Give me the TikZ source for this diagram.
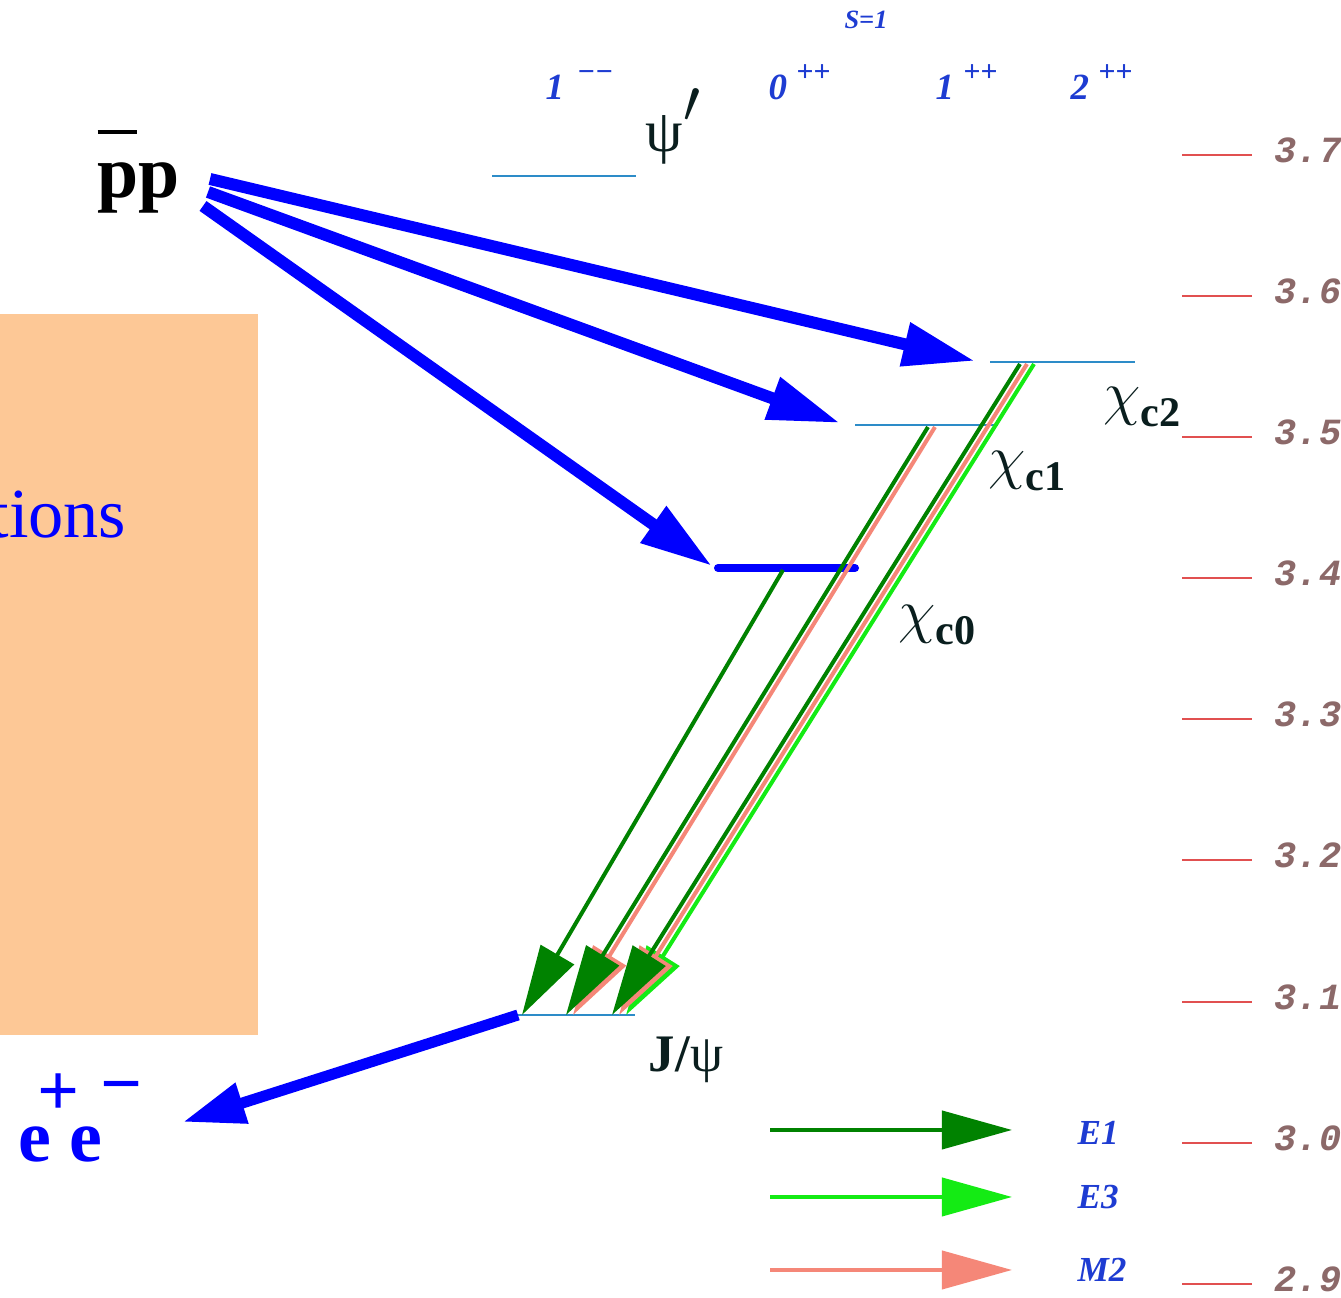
\documentclass[tikz,border=0pt]{standalone}
\usepackage{fontspec}
\setmainfont{Liberation Serif}
\newfontfamily\monof{Liberation Mono}
\usetikzlibrary{arrows.meta}
\definecolor{boxor}{RGB}{253,200,150}
\definecolor{lvl}{RGB}{45,140,200}
\definecolor{dkgreen}{RGB}{0,130,0}
\definecolor{brgreen}{RGB}{20,235,20}
\definecolor{salm}{RGB}{245,135,120}
\definecolor{scalered}{RGB}{225,80,80}
\definecolor{scaletxt}{RGB}{140,105,105}
\definecolor{qnblue}{RGB}{30,60,210}
\definecolor{lbldark}{RGB}{10,30,30}
\newcommand{\chilbl}[1]{{\fontsize{19}{20}\selectfont$\chi$}\raisebox{-0.35em}{\fontsize{12}{13}\selectfont\bfseries #1}}
\begin{document}
\begin{tikzpicture}[x=0.01cm,y=-0.01cm,
  levelline/.style={draw=lvl,line width=0.024cm},
  prod/.style={draw=blue,line width=0.12cm,-{Triangle[length=0.72cm,width=0.42cm]}},
  eone/.style={draw=dkgreen,line width=0.04cm,-{Triangle[length=0.7cm,width=0.38cm]}},
  ethree/.style={draw=brgreen,line width=0.04cm,-{Triangle[length=0.7cm,width=0.38cm]}},
  mtwo/.style={draw=salm,line width=0.04cm,-{Triangle[length=0.7cm,width=0.38cm]}},
  scaleline/.style={draw=scalered,line width=0.028cm},
  scalelbl/.style={anchor=west,inner sep=0pt,text=scaletxt,font=\monof\bfseries\itshape\fontsize{10.5}{11}\selectfont},
  qnlbl/.style={anchor=base west,inner sep=0pt,text=qnblue,font=\bfseries\itshape\fontsize{10.5}{12}\selectfont},
  leglbl/.style={anchor=west,inner sep=0pt,text=qnblue,font=\bfseries\itshape\fontsize{10}{12}\selectfont},
  statelbl/.style={anchor=base west,inner sep=0pt,text=lbldark}
]
\useasboundingbox (0,0) rectangle (1341,1298);
\fill[white] (0,0) rectangle (1341,1298);

% orange box
\fill[boxor] (0,314) rectangle (258,1035);
\node[anchor=base east,inner sep=0pt,text=blue,font=\fontsize{20}{24}\selectfont] (tions) at (127,538) {tions};

% top labels
\node[inner sep=0pt,text=qnblue,font=\bfseries\itshape\fontsize{7.5}{9}\selectfont] (S1) at (866,20) {S=1};
\node[qnlbl] (q1) at (545,100) {1\hspace{0.35em}\raisebox{0.5em}{\fontsize{8.5}{9}\selectfont −−}};
\node[qnlbl] (q2) at (768,100) {0\hspace{0.25em}\raisebox{0.5em}{\fontsize{8.5}{9}\selectfont ++}};
\node[qnlbl] (q3) at (935,100) {1\hspace{0.25em}\raisebox{0.5em}{\fontsize{8.5}{9}\selectfont ++}};
\node[qnlbl] (q4) at (1070,100) {2\hspace{0.25em}\raisebox{0.5em}{\fontsize{8.5}{9}\selectfont ++}};

% scale
\foreach \yy/\vv [count=\k] in {155/3.7,296/3.6,437/3.5,578/3.4,719/3.3,860/3.2,1002/3.1,1143/3.0,1284/2.9}{
  \coordinate (sa\k) at (1182,\yy);
  \coordinate (sb\k) at (1252,\yy);
  \draw[scaleline] (sa\k) -- (sb\k);
  \node[scalelbl] (sl\k) at (1274,\yy-5) {\vv};
}

% levels
\coordinate (psiL) at (492,176); \coordinate (psiR) at (636,176);
\coordinate (c2L) at (990,362);  \coordinate (c2R) at (1135,362);
\coordinate (c1L) at (855,425);  \coordinate (c1R) at (998,425);
\coordinate (c0L) at (718,568);  \coordinate (c0R) at (855,568);
\coordinate (jL) at (518,1015);  \coordinate (jR) at (635,1015);
\draw[levelline] (psiL) -- (psiR);
\draw[levelline] (c2L) -- (c2R);
\draw[levelline] (c1L) -- (c1R);
\draw[levelline] (jL) -- (jR);
\draw[blue,line width=0.08cm,line cap=round] (c0L) -- (c0R);

% state labels
\node[statelbl,font=\fontsize{17}{20}\selectfont] (psip) at (645,152) {ψ\raisebox{0.5em}{$\prime$}};
\node[statelbl] (chic2) at (1103,414) {\chilbl{c2}};
\node[statelbl] (chic1) at (988,478) {\chilbl{c1}};
\node[statelbl] (chic0) at (898,632) {\chilbl{c0}};
\node[statelbl,font=\fontsize{15}{18}\selectfont] (jpsi) at (648,1072) {\textbf{J/}ψ};

% radiative transitions
\coordinate (t0s) at (783,570);  \coordinate (t0e) at (522,1015);
\coordinate (t1s) at (928,427);  \coordinate (t1e) at (566,1015);
\coordinate (t1ms) at (935,427); \coordinate (t1me) at (573,1015);
\coordinate (t2s) at (1020,364); \coordinate (t2e) at (612,1015);
\coordinate (t2ms) at (1027,364); \coordinate (t2me) at (619,1015);
\coordinate (t2es) at (1034,364); \coordinate (t2ee) at (626,1015);
\draw[ethree] (t2es) -- (t2ee);
\draw[mtwo] (t2ms) -- (t2me);
\draw[eone] (t2s) -- (t2e);
\draw[mtwo] (t1ms) -- (t1me);
\draw[eone] (t1s) -- (t1e);
\draw[eone] (t0s) -- (t0e);

% ppbar
\node[anchor=base west,inner sep=0pt,text=black,font=\bfseries\fontsize{21}{24}\selectfont] (pp) at (97,198) {\makebox[0pt][l]{\raisebox{0.86em}{\rule{0.53em}{0.055em}}}pp};
\coordinate (pa) at (210,179);
\coordinate (pb) at (208,192);
\coordinate (pc) at (203,206);
\coordinate (tipc2) at (975,361);
\coordinate (tipc1) at (840,423);
\coordinate (tipc0) at (712,566);
\draw[prod] (pa) -- (tipc2);
\draw[prod] (pb) -- (tipc1);
\draw[prod] (pc) -- (tipc0);

% e+e-
\node[anchor=base west,inner sep=0pt,text=blue,font=\bfseries\fontsize{21}{24}\selectfont] (ee) at (18,1162) {e e};
\node[inner sep=0pt,text=blue,font=\bfseries\fontsize{21}{24}\selectfont] (eplus) at (59,1095) {+};
\node[inner sep=0pt,text=blue,font=\bfseries\fontsize{21}{24}\selectfont] (eminus) at (122,1095) {−};
\coordinate (eetip) at (183,1122);
\draw[blue,line width=0.11cm,-{Triangle[length=0.62cm,width=0.4cm]}] (jL) -- (eetip);

% legend
\coordinate (l1s) at (770,1130); \coordinate (l1e) at (1012,1130);
\coordinate (l2s) at (770,1197); \coordinate (l2e) at (1012,1197);
\coordinate (l3s) at (770,1270); \coordinate (l3e) at (1012,1270);
\draw[eone] (l1s) -- (l1e);
\draw[ethree] (l2s) -- (l2e);
\draw[mtwo] (l3s) -- (l3e);
\node[leglbl] (E1) at (1077,1133) {E1};
\node[leglbl] (E3) at (1077,1197) {E3};
\node[leglbl] (M2) at (1077,1270) {M2};
\end{tikzpicture}
\end{document}
